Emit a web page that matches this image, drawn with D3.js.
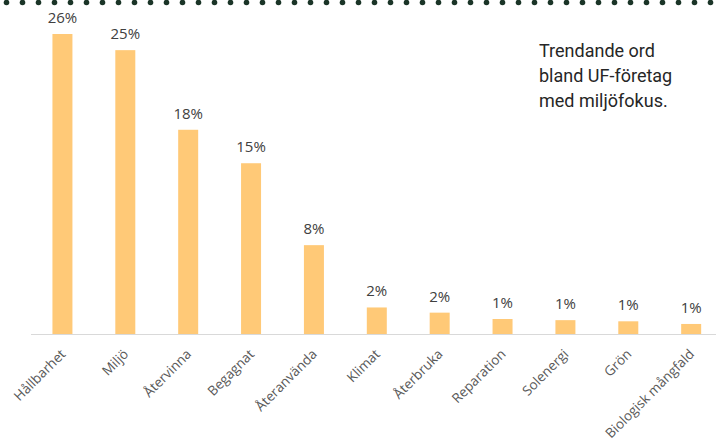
<!DOCTYPE html>
<html>
<head>
<meta charset="utf-8">
<script src="https://cdn.jsdelivr.net/npm/d3@7"></script>
<style>
  html, body { margin: 0; padding: 0; background: #ffffff; }
  svg { display: block; }
</style>
</head>
<body>
<script>
const categories = ["Hållbarhet", "Miljö", "Återvinna", "Begagnat", "Återanvända", "Klimat", "Återbruka", "Reparation", "Solenergi", "Grön", "Biologisk mångfald"];
const values = [26.0, 24.6, 17.7, 14.8, 7.7, 2.3, 1.85, 1.3, 1.2, 1.1, 0.87];
const titleLines = ["Trendande ord", "bland UF-företag", "med miljöfokus."];

const W = 716, H = 445;
const svg = d3.select("body").append("svg").attr("width", W).attr("height", H);

// dotted top border
const dotX = d3.range(6.5, W + 8, 16);
svg.append("g").selectAll("circle").data(dotX).join("circle")
  .attr("cx", d => d).attr("cy", 2.5).attr("r", 2.8).attr("fill", "#1b3528");

const x = d3.scaleBand().domain(categories).range([31, 722.6]).paddingInner(0.682).paddingOuter(0.341);
const y = d3.scaleLinear().domain([0, 26]).range([334, 34]);

// bars
svg.append("g").selectAll("rect").data(values).join("rect")
  .attr("x", (d, i) => x(categories[i]))
  .attr("y", d => y(d))
  .attr("width", x.bandwidth())
  .attr("height", d => y(0) - y(d))
  .attr("fill", "#ffc977");

// axis line
svg.append("line").attr("x1", 31).attr("x2", W).attr("y1", y(0) + 0.5).attr("y2", y(0) + 0.5)
  .attr("stroke", "#d9d9d9").attr("stroke-width", 1);

// value labels
svg.append("g").selectAll("text").data(values).join("text")
  .attr("x", (d, i) => x(categories[i]) + x.bandwidth() / 2)
  .attr("y", d => y(d) - 11)
  .attr("text-anchor", "middle")
  .attr("font-family", "Open Sans")
  .attr("font-size", 15)
  .attr("fill", "#404040")
  .text(d => Math.round(d) + "%");

// category labels
svg.append("g").selectAll("text").data(categories).join("text")
  .attr("transform", d => `translate(${x(d) + x.bandwidth() / 2 + 4},${355}) rotate(-45)`)
  .attr("text-anchor", "end")
  .attr("font-family", "Open Sans")
  .attr("font-size", 13.5)
  .attr("fill", "#595959")
  .text(d => d);

// title
svg.append("g").selectAll("text").data(titleLines).join("text")
  .attr("x", 539)
  .attr("y", (d, i) => 56.5 + i * 25.2)
  .attr("font-family", "Roboto")
  .attr("font-size", 18)
  .attr("fill", "#262626")
  .text(d => d);
</script>
</body>
</html>
